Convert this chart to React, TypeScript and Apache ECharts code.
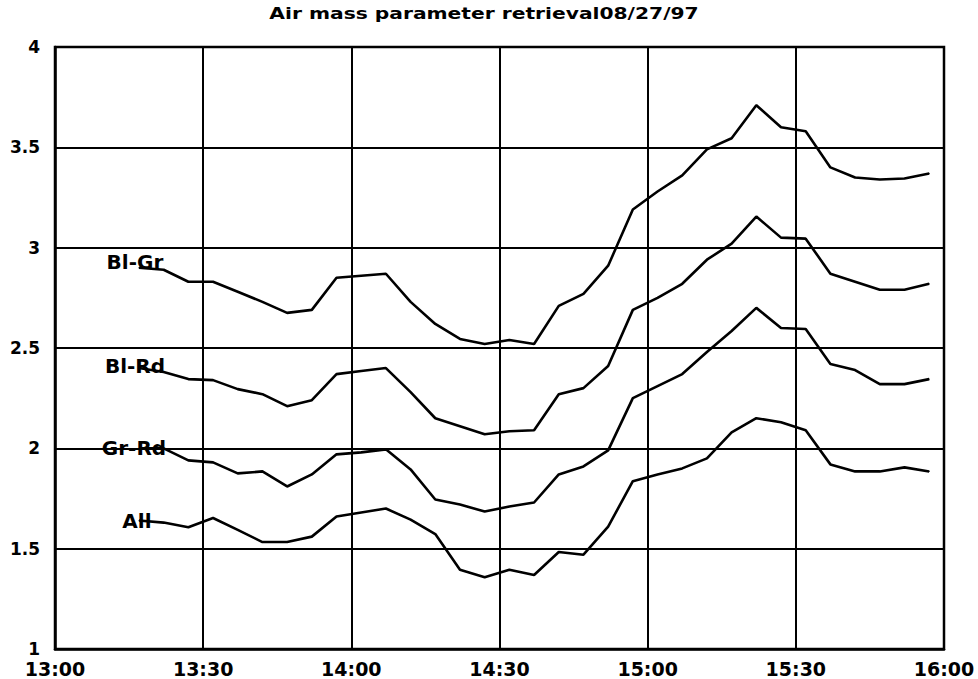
import React, { useEffect, useRef } from "react";
import * as echarts from "echarts";

const chartTitle = "Air mass parameter retrieval08/27/97";

const times = [
  "13:17", "13:22", "13:27", "13:32", "13:37", "13:42", "13:47", "13:52", "13:57",
  "14:02", "14:07", "14:12", "14:17", "14:22", "14:27", "14:32", "14:37", "14:42",
  "14:47", "14:52", "14:57", "15:02", "15:07", "15:12", "15:17", "15:22", "15:27",
  "15:32", "15:37", "15:42", "15:47", "15:52", "15:57",
];

const seriesNames = ["Bl-Gr", "Bl-Rd", "Gr-Rd", "All"];

const blGr = [
  2.9, 2.89, 2.83, 2.83, 2.78, 2.73, 2.675, 2.69, 2.85,
  2.86, 2.87, 2.73, 2.62, 2.545, 2.52, 2.54, 2.52, 2.71,
  2.77, 2.91, 3.19, 3.28, 3.36, 3.49, 3.545, 3.71, 3.6,
  3.58, 3.4, 3.35, 3.34, 3.345, 3.37,
];

const blRd = [
  2.4, 2.38, 2.345, 2.34, 2.295, 2.27, 2.21, 2.24, 2.37,
  2.385, 2.4, 2.28, 2.15, 2.11, 2.07, 2.085, 2.09, 2.27,
  2.3, 2.41, 2.69, 2.75, 2.82, 2.94, 3.02, 3.155, 3.05,
  3.045, 2.87, 2.83, 2.79, 2.79, 2.82,
];

const grRd = [
  2.0, 2.0, 1.94, 1.93, 1.875, 1.885, 1.81, 1.87, 1.97,
  1.98, 1.995, 1.895, 1.745, 1.72, 1.685, 1.71, 1.73, 1.87,
  1.91, 1.99, 2.25, 2.31, 2.37, 2.48, 2.585, 2.7, 2.6,
  2.595, 2.42, 2.39, 2.32, 2.32, 2.345,
];

const allBands = [
  1.64, 1.63, 1.607, 1.653, 1.594, 1.533, 1.533, 1.56, 1.66,
  1.68, 1.7, 1.645, 1.573, 1.395, 1.358, 1.395, 1.369, 1.483,
  1.47, 1.61, 1.836, 1.87, 1.9, 1.95, 2.08, 2.15, 2.13,
  2.09, 1.92, 1.885, 1.885, 1.905, 1.885,
];

const xTickLabels = ["13:00", "13:30", "14:00", "14:30", "15:00", "15:30", "16:00"];

const seriesValues = [blGr, blRd, grRd, allBands];
const labelOffsets: number[][] = [[-4, -6], [-4, -2], [-5, 0], [-2, 0]];

function toMinutes(t: string): number {
  const [h, m] = t.split(":").map(Number);
  return (h - 13) * 60 + m;
}

const FONT = "DejaVu Sans";

export default function App() {
  const ref = useRef<HTMLDivElement>(null);
  useEffect(() => {
    if (!ref.current) return;
    const chart = echarts.init(ref.current, undefined, { renderer: "svg" });
    const xMin = toMinutes(xTickLabels[0]);
    const xMax = toMinutes(xTickLabels[xTickLabels.length - 1]);
    const series = seriesNames.map((name, si) => ({
      name,
      type: "line",
      data: seriesValues[si].map((v, i) => {
        const item: any = { value: [toMinutes(times[i]), v] };
        if (i === 0) {
          item.label = {
            show: true,
            position: "inside",
            offset: labelOffsets[si],
            formatter: name,
            color: "#000",
            opacity: 1,
            fontFamily: FONT,
            fontWeight: "bold",
            fontSize: 20,
          };
        }
        return item;
      }),
      showSymbol: true,
      symbol: "circle",
      symbolSize: 1,
      itemStyle: { color: "#000" },
      lineStyle: { color: "#000", width: 2.6 },
      label: { show: false },
      z: 5,
    }));
    chart.setOption({
      animation: false,
      backgroundColor: "#fff",
      graphic: [
        {
          type: "text",
          x: 484,
          y: 14,
          scaleX: 1.35,
          style: {
            text: chartTitle,
            x: 0,
            y: 0,
            align: "center",
            verticalAlign: "middle",
            fontFamily: FONT,
            fontWeight: "bold",
            fontSize: 15,
            fill: "#000",
          },
        },
      ],
      grid: {
        left: 55,
        right: 34,
        top: 47,
        bottom: 30,
        show: true,
        borderColor: "#000",
        borderWidth: 2.5,
        backgroundColor: "transparent",
      },
      xAxis: {
        type: "value",
        min: xMin,
        max: xMax,
        interval: 30,
        axisLine: { show: true, lineStyle: { color: "#000", width: 2.5 } },
        axisTick: { show: false },
        splitLine: { show: true, lineStyle: { color: "#000", width: 2 } },
        axisLabel: {
          color: "#000",
          fontFamily: FONT,
          fontWeight: "bold",
          fontSize: 19,
          margin: 10,
          formatter: (v: number) => xTickLabels[Math.round((v - xMin) / 30)] ?? "",
        },
      },
      yAxis: {
        type: "value",
        min: 1,
        max: 4,
        interval: 0.5,
        axisLine: { show: true, lineStyle: { color: "#000", width: 2.5 } },
        axisTick: { show: false },
        splitLine: { show: true, lineStyle: { color: "#000", width: 2 } },
        axisLabel: {
          color: "#000",
          fontFamily: FONT,
          fontWeight: "bold",
          fontSize: 17,
          margin: 15,
        },
      },
      series,
    });
    return () => chart.dispose();
  }, []);
  return (
    <div
      ref={ref}
      style={{ position: "absolute", left: 0, top: 0, width: 978, height: 679, background: "#fff" }}
    />
  );
}
